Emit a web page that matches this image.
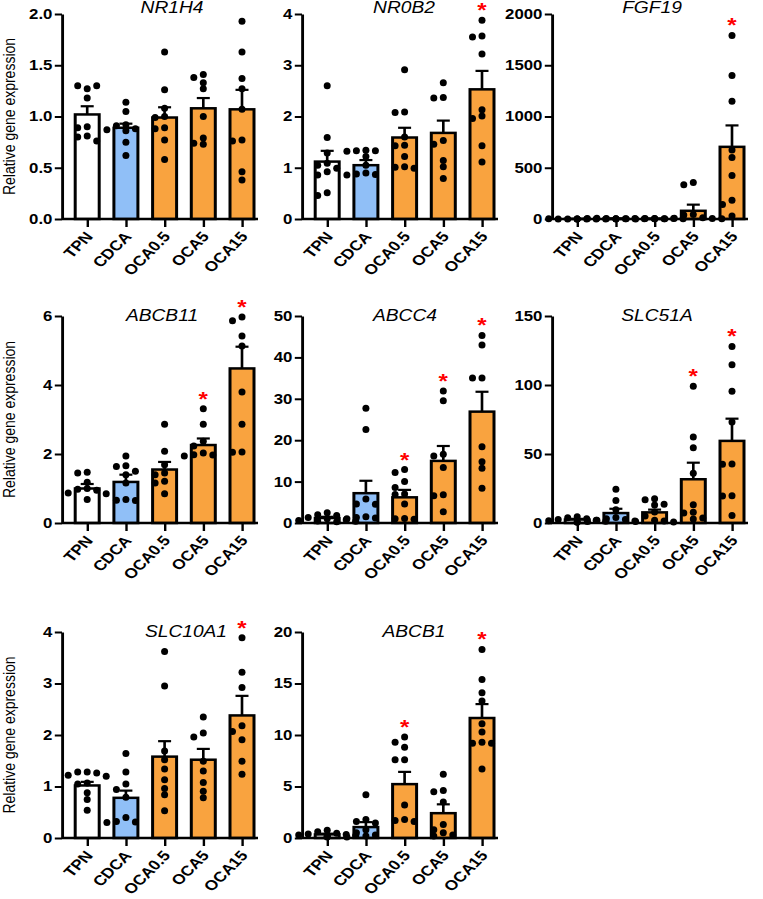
<!DOCTYPE html>
<html>
<head>
<meta charset="utf-8">
<script src="https://cdn.jsdelivr.net/npm/d3@7"></script>
<style>
  body { margin: 0; background: #fff; }
  svg { display: block; font-family: "Liberation Sans", Arial, sans-serif; }
</style>
</head>
<body>
<svg id="chart" width="763" height="899"></svg>
<script>
const groups = ["TPN", "CDCA", "OCA0.5", "OCA5", "OCA15"];
const groupColors = ["#ffffff", "#90bff7", "#f9a33f", "#f9a33f", "#f9a33f"];

const genes = ["NR1H4", "NR0B2", "FGF19", "ABCB11", "ABCC4", "SLC51A", "SLC10A1", "ABCB1"];
const yTop = [2, 4, 2000, 6, 50, 150, 4, 20];
const yStep = [0.5, 1, 500, 2, 10, 50, 1, 5];
const yFormat = [".1f", "d", "d", "d", "d", "d", "d", "d"];

// one array per group, individual animals
const nr1h4Dots = [
  [1.27, 1.30, 1.30, 1.18, 0.90, 0.89, 0.81, 0.80, 0.76],
  [1.14, 1.05, 0.92, 0.91, 0.88, 0.87, 0.86, 0.75, 0.62],
  [1.63, 1.26, 1.08, 1.00, 0.99, 0.89, 0.88, 0.77, 0.58],
  [1.41, 1.38, 1.33, 1.27, 1.00, 0.79, 0.74, 0.73],
  [1.93, 1.63, 1.37, 1.27, 1.07, 0.77, 0.76, 0.46, 0.38]
];
const nr1h4Mean = [1.02, 0.89, 0.99, 1.08, 1.07];
const nr1h4Sem = [0.08, 0.04, 0.10, 0.10, 0.19];
const nr1h4Stars = [];

const nr0b2Dots = [
  [2.60, 1.59, 1.29, 1.09, 1.05, 0.99, 0.92, 0.86, 0.51, 0.46],
  [1.34, 1.33, 1.33, 1.32, 1.22, 1.05, 0.90, 0.88, 0.87, 0.86],
  [2.91, 2.09, 2.08, 1.60, 1.44, 1.43, 1.22, 1.02, 1.01, 0.99],
  [2.66, 2.37, 2.36, 1.53, 1.46, 1.14, 1.02, 0.79],
  [3.88, 3.57, 3.55, 3.22, 2.13, 2.01, 1.96, 1.43, 1.11]
];
const nr0b2Mean = [1.12, 1.05, 1.59, 1.68, 2.53];
const nr0b2Sem = [0.21, 0.10, 0.19, 0.24, 0.36];
const nr0b2Stars = ["OCA15"];

const fgf19Dots = [
  [1.2, 1.0, 0.9, 1.1, 0.8, 1.3, 0.9, 1.0, 0.8],
  [3, 5, 2, 8, 4, 6, 3, 2, 1],
  [2, 4, 3, 1, 6, 2, 3, 5, 2],
  [355, 335, 45, 40, 12, 8, 5, 3, 2],
  [1791, 1399, 1148, 672, 601, 424, 183, 141, 29]
];
const fgf19Mean = [1, 4, 3, 80, 704];
const fgf19Sem = [0.1, 1, 1, 60, 209];
const fgf19Stars = ["OCA15"];

const abcb11Dots = [
  [1.47, 1.45, 1.18, 1.00, 0.98, 0.95, 0.87, 0.85, 0.68],
  [1.94, 1.66, 1.64, 1.50, 1.40, 1.16, 0.68, 0.66, 0.65],
  [2.86, 2.08, 1.69, 1.45, 1.40, 1.21, 1.16, 0.85],
  [3.31, 2.86, 2.37, 2.23, 2.03, 1.98, 1.97, 1.94],
  [5.97, 5.86, 5.42, 5.13, 3.80, 2.86, 2.06, 2.05]
];
const abcb11Mean = [1.00, 1.19, 1.55, 2.26, 4.48];
const abcb11Sem = [0.13, 0.21, 0.22, 0.19, 0.63];
const abcb11Stars = ["OCA5", "OCA15"];

const abcc4Dots = [
  [2.5, 2.0, 1.8, 1.3, 1.0, 0.8, 0.6, 0.5, 0.4, 0.3],
  [27.7, 22.6, 5.8, 4.6, 4.5, 1.5, 1.3, 1.2, 1.0],
  [12.9, 12.2, 10.0, 8.6, 7.0, 6.9, 4.6, 1.1, 1.0, 0.9],
  [31.9, 29.5, 16.6, 16.2, 13.4, 6.8, 6.6, 2.7],
  [45.3, 43.0, 35.0, 35.0, 18.4, 14.8, 13.2, 8.4]
];
const abcc4Mean = [1.2, 7.2, 6.2, 15.0, 26.9];
const abcc4Sem = [0.3, 3.0, 1.8, 3.6, 4.8];
const abcc4Stars = ["OCA0.5", "OCA5", "OCA15"];

const slc51aDots = [
  [4.5, 3.8, 3.0, 2.5, 2.0, 1.6, 1.2, 0.8, 0.5],
  [24.5, 16.3, 9.6, 4.0, 3.0, 2.5, 2.0, 1.5, 1.0],
  [17.5, 16.8, 13.5, 13.0, 8.0, 5.0, 2.0, 1.5, 1.0, 0.8],
  [99.1, 62.4, 54.5, 36.0, 13.2, 7.7, 7.2, 3.6, 2.9],
  [127.9, 114.7, 95.5, 73.2, 42.7, 42.6, 19.7, 19.6, 5.5]
];
const slc51aMean = [2.5, 7.2, 7.7, 31.7, 59.5];
const slc51aSem = [0.5, 3.1, 2.0, 12.0, 16.1];
const slc51aStars = ["OCA5", "OCA15"];

const slc10a1Dots = [
  [1.28, 1.28, 1.26, 1.22, 1.20, 1.07, 1.05, 0.88, 0.75, 0.54],
  [1.64, 1.28, 1.05, 0.94, 0.79, 0.40, 0.32, 0.31, 0.30],
  [3.62, 2.95, 1.69, 1.52, 1.34, 1.13, 0.96, 0.84, 0.53],
  [2.35, 2.04, 1.96, 1.49, 1.30, 1.08, 0.91, 0.78],
  [3.89, 3.22, 2.92, 2.18, 2.07, 1.91, 1.49, 1.24]
];
const slc10a1Mean = [1.02, 0.78, 1.58, 1.52, 2.38];
const slc10a1Sem = [0.07, 0.14, 0.30, 0.21, 0.38];
const slc10a1Stars = ["OCA15"];

const abcb1Dots = [
  [0.75, 0.6, 0.45, 0.4, 0.35, 0.3, 0.25, 0.2, 0.15, 0.1],
  [4.2, 1.8, 1.6, 1.45, 0.8, 0.5, 0.3, 0.2, 0.1],
  [9.8, 9.3, 8.8, 7.6, 7.6, 3.2, 1.8, 1.7, 1.6],
  [6.2, 4.6, 4.5, 3.5, 1.3, 0.8, 0.5, 0.3, 0.2],
  [18.3, 15.4, 14.1, 13.3, 11.1, 10.3, 9.3, 9.2, 9.2, 6.7]
];
const abcb1Mean = [0.35, 1.06, 5.23, 2.41, 11.65];
const abcb1Sem = [0.07, 0.48, 1.19, 0.86, 1.35];
const abcb1Stars = ["OCA0.5", "OCA15"];

const allDots = [nr1h4Dots, nr0b2Dots, fgf19Dots, abcb11Dots, abcc4Dots, slc51aDots, slc10a1Dots, abcb1Dots];
const allMean = [nr1h4Mean, nr0b2Mean, fgf19Mean, abcb11Mean, abcc4Mean, slc51aMean, slc10a1Mean, abcb1Mean];
const allSem = [nr1h4Sem, nr0b2Sem, fgf19Sem, abcb11Sem, abcc4Sem, slc51aSem, slc10a1Sem, abcb1Sem];
const allStars = [nr1h4Stars, nr0b2Stars, fgf19Stars, abcb11Stars, abcc4Stars, slc51aStars, slc10a1Stars, abcb1Stars];

// layout (pixels of the final picture)
const sx = 1.2; // the original figure is stretched horizontally
const colX = [62, 302, 552];
const rows = [[14, 219], [316, 523], [632, 838]];
const titleY = [13, 321, 637];
const titleX = [110, 102, 100, 100, 103, 105, 124, 112];

const { select, scaleLinear, scalePoint, axisLeft, axisBottom, format, range, max } = d3;

const svg = select("#chart")
  .attr("viewBox", `0 0 ${763 / sx} 899`)
  .attr("preserveAspectRatio", "none");

const plotW = 196 / sx;
const barW = 24 / sx;
const capW = 6.5 / sx;
const dotR = 3.5;
const slotStep = 9.5 / sx;
const slotOrder = [0, -1, 1, -2, 2, -3, 3];

// simple beeswarm: put each dot in the first free column at its height
function swarm(vals, y) {
  const placed = [];
  return vals.map(v => {
    const py = y(v);
    let slot = slotOrder.find(s => !placed.some(p => p.slot === s && Math.abs(p.py - py) < 5.8));
    if (slot === undefined) slot = 0;
    placed.push({ slot, py });
    return { v, py, slot };
  });
}

genes.forEach((gene, i) => {
  const col = i % 3, row = Math.floor(i / 3);
  const [top, bottom] = rows[row];
  const g = svg.append("g").attr("transform", `translate(${colX[col] / sx},0)`);

  const x = scalePoint().domain(groups).range([21, 150]);
  const y = scaleLinear().domain([0, yTop[i]]).range([bottom, top]);

  const data = groups.map((grp, k) => ({
    grp, color: groupColors[k], mean: allMean[i][k], sem: allSem[i][k], dots: allDots[i][k]
  }));

  // bars
  g.selectAll("rect.bar").data(data).enter().append("rect")
    .attr("class", "bar")
    .attr("x", d => x(d.grp) - barW / 2)
    .attr("y", d => y(d.mean))
    .attr("width", barW)
    .attr("height", d => bottom - y(d.mean))
    .attr("fill", d => d.color)
    .attr("stroke", "#000")
    .attr("stroke-width", 2.5);

  // error bars (upper only)
  const eb = g.selectAll("g.err").data(data).enter().append("g").attr("class", "err")
    .attr("stroke", "#000").attr("stroke-width", 2.2);
  eb.append("line")
    .attr("x1", d => x(d.grp)).attr("x2", d => x(d.grp))
    .attr("y1", d => y(d.mean)).attr("y2", d => y(d.mean + d.sem));
  eb.append("line")
    .attr("x1", d => x(d.grp) - capW).attr("x2", d => x(d.grp) + capW)
    .attr("y1", d => y(d.mean + d.sem)).attr("y2", d => y(d.mean + d.sem));

  // dots (ellipse so they stay round after the stretch)
  data.forEach(d => {
    g.append("g").selectAll("ellipse").data(swarm(d.dots, y)).enter().append("ellipse")
      .attr("cx", p => x(d.grp) + p.slot * slotStep)
      .attr("cy", p => p.py)
      .attr("rx", dotR / sx)
      .attr("ry", dotR)
      .attr("fill", "#000");
  });

  // axes
  const yAxis = axisLeft(y)
    .tickValues(range(0, yTop[i] + yStep[i] / 2, yStep[i]))
    .tickFormat(format(yFormat[i]))
    .tickSize(6).tickSizeOuter(0).tickPadding(2);
  const yAxisG = g.append("g").call(yAxis);
  yAxisG.select(".domain").attr("stroke-width", 2.4);
  yAxisG.selectAll(".tick line").attr("stroke-width", 2);
  yAxisG.selectAll("text")
    .attr("font-size", 14).attr("font-weight", "bold").attr("fill", "#000");

  const xAxisG = g.append("g")
    .attr("transform", `translate(0,${bottom})`)
    .call(axisBottom(x).tickSize(8).tickSizeOuter(0));
  xAxisG.select(".domain").remove();
  xAxisG.append("line")
    .attr("x1", 0).attr("x2", plotW)
    .attr("stroke", "#000").attr("stroke-width", 2.4);
  xAxisG.selectAll(".tick line").attr("stroke-width", 2);
  // -50deg here ends up near 45deg once stretched
  xAxisG.selectAll(".tick text")
    .attr("x", 0).attr("y", 0).attr("dy", 0)
    .attr("text-anchor", "end")
    .attr("transform", "translate(5,18) rotate(-50)")
    .attr("font-size", 14.3).attr("font-weight", "bold").attr("fill", "#000");

  // significance stars
  g.selectAll("text.star").data(data.filter(d => allStars[i].includes(d.grp)))
    .enter().append("text")
    .attr("class", "star")
    .attr("x", d => x(d.grp))
    .attr("y", d => y(max(d.dots)) - 3)
    .attr("text-anchor", "middle")
    .attr("font-size", 20)
    .attr("font-weight", "bold")
    .attr("fill", "#ff0000")
    .text("*");

  g.append("text")
    .attr("x", titleX[i] / sx)
    .attr("y", titleY[row])
    .attr("text-anchor", "middle")
    .attr("font-size", 16)
    .attr("font-style", "italic")
    .attr("fill", "#000")
    .text(gene);

  if (col === 0) {
    svg.append("text")
      .attr("transform", `translate(${14.5 / sx},${(top + bottom) / 2}) rotate(-90)`)
      .attr("text-anchor", "middle")
      .attr("font-size", 14)
      .attr("fill", "#000")
      .text("Relative gene expression");
  }
});
</script>
</body>
</html>
